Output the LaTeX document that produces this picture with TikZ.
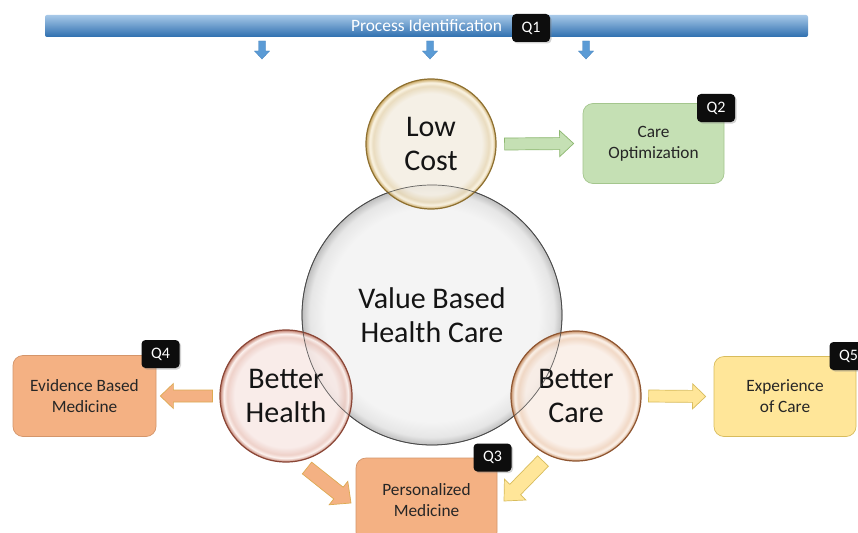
\documentclass[tikz,border=0pt]{standalone}
\usepackage{fontspec}
\setmainfont{Carlito}
\usetikzlibrary{calc,shadows}

\definecolor{barT}{HTML}{A7C8E8}
\definecolor{barB}{HTML}{2E6FAF}
\definecolor{blueArr}{HTML}{5B9BD5}
\definecolor{blueArrL}{HTML}{4A86C0}
\definecolor{greenFill}{HTML}{C5E0B4}
\definecolor{greenLine}{HTML}{8DB870}
\definecolor{orangeFill}{HTML}{F4B183}
\definecolor{orangeLine}{HTML}{D4956A}
\definecolor{orangeArrL}{HTML}{DDAA52}
\definecolor{yellowFill}{HTML}{FFE699}
\definecolor{yellowLine}{HTML}{D8BC5C}
\definecolor{mainA}{HTML}{F4F4F4}
\definecolor{mainB}{HTML}{E6E6E6}
\definecolor{mainC}{HTML}{BEBEBE}
\definecolor{mainRim}{HTML}{4A4A4A}
\definecolor{lcA}{HTML}{F4EEE2}
\definecolor{lcB}{HTML}{E6D6B4}
\definecolor{lcH}{HTML}{FBF4E2}
\definecolor{lcC}{HTML}{C09848}
\definecolor{lcRim}{HTML}{8E7030}
\definecolor{bhA}{HTML}{F8E9E6}
\definecolor{bhB}{HTML}{ECC9C0}
\definecolor{bhH}{HTML}{FCF0EC}
\definecolor{bhC}{HTML}{B86A56}
\definecolor{bhRim}{HTML}{8A4636}
\definecolor{bcA}{HTML}{FAEEE6}
\definecolor{bcB}{HTML}{EFD2BC}
\definecolor{bcH}{HTML}{FDF3EA}
\definecolor{bcC}{HTML}{C08050}
\definecolor{bcRim}{HTML}{8E5530}

\pgfdeclareradialshading{mainglass}{\pgfpoint{0bp}{0bp}}{color(0bp)=(mainA); color(20.5bp)=(mainA); color(23.5bp)=(mainB); color(25bp)=(mainC); color(50bp)=(mainC)}
\pgfdeclareradialshading{lcglass}{\pgfpoint{0bp}{0bp}}{color(0bp)=(lcA); color(19.5bp)=(lcA); color(22.3bp)=(lcB); color(23.6bp)=(lcH); color(25bp)=(lcC); color(50bp)=(lcC)}
\pgfdeclareradialshading{bhglass}{\pgfpoint{0bp}{0bp}}{color(0bp)=(bhA); color(19.5bp)=(bhA); color(22.3bp)=(bhB); color(23.6bp)=(bhH); color(25bp)=(bhC); color(50bp)=(bhC)}
\pgfdeclareradialshading{bcglass}{\pgfpoint{0bp}{0bp}}{color(0bp)=(bcA); color(19.5bp)=(bcA); color(22.3bp)=(bcB); color(23.6bp)=(bcH); color(25bp)=(bcC); color(50bp)=(bcC)}

% block arrow: style, from, to, shaft half width, head half width, head length
\newcommand{\blkarr}[6]{%
  \draw[#1] let \p1=(#2), \p2=(#3),
    \n1={atan2(\y2-\y1,\x2-\x1)}, \n2={veclen(\x2-\x1,\y2-\y1)} in
    [shift={(\p1)}, rotate=\n1]
    (0,-#4) -- ({\n2-#6},-#4) -- ({\n2-#6},-#5) -- (\n2,0)
    -- ({\n2-#6},#5) -- ({\n2-#6},#4) -- (0,#4) -- cycle;}

\tikzset{
  bigtxt/.style={font=\fontsize{30}{34}\selectfont, align=center, text=black!92},
  glass/.style={circle, inner sep=0pt, shade, bigtxt},
  box/.style={rectangle, rounded corners=10pt, inner sep=0pt, align=center,
    font=\fontsize{17.3}{21}\selectfont, text=black!85, line width=0.7pt},
  badge/.style={rectangle, rounded corners=4pt, fill=black!95, text=white,
    minimum width=38pt, minimum height=28pt, inner sep=0pt,
    font=\fontsize{16}{18}\selectfont, drop shadow={shadow xshift=1.5pt, shadow yshift=-1.5pt, opacity=0.35}},
  greenarr/.style={fill=greenFill, draw=greenLine, line width=0.7pt, line join=miter},
  orangearr/.style={fill=orangeFill, draw=orangeArrL, line width=0.7pt, line join=miter},
  yellowarr/.style={fill=yellowFill, draw=yellowLine, line width=0.7pt, line join=miter},
  bluearr/.style={fill=blueArr, draw=blueArrL, line width=0.4pt, line join=miter},
}

\begin{document}
\begin{tikzpicture}[x=1pt, y=-1pt]
\clip (0,0) rectangle (858,532);
\fill[white] (0,0) rectangle (858,532);

% top bar
\node[rectangle, rounded corners=2pt, top color=barT, bottom color=barB,
  minimum width=763pt, minimum height=22pt, inner sep=0pt,
  text=white, font=\fontsize{17.4}{19}\selectfont] (pi) at (426.5,26) {Process Identification};
\node[badge] (q1) at (531,28) {Q1};

% down arrows
\coordinate (d1s) at (262,41); \coordinate (d1e) at (262,59);
\coordinate (d2s) at (430,41); \coordinate (d2e) at (430,59);
\coordinate (d3s) at (586,41); \coordinate (d3e) at (586,59);
\blkarr{bluearr}{d1s}{d1e}{3.5}{7.5}{8}
\blkarr{bluearr}{d2s}{d2e}{3.5}{7.5}{8}
\blkarr{bluearr}{d3s}{d3e}{3.5}{7.5}{8}

% main circle
\node[glass, shading=mainglass, minimum size=260pt, draw=mainRim, line width=0.8pt] (vbhc) at (432,315) {Value Based\\Health Care};

% small circles
\node[glass, shading=lcglass, minimum size=130pt, draw=lcRim, line width=1.2pt,
  fill opacity=0.85, text opacity=1] (lc) at (431,144) {Low\\Cost};
\node[glass, shading=bhglass, minimum size=132pt, draw=bhRim, line width=1.2pt,
  fill opacity=0.85, text opacity=1] (bh) at (286,396) {Better\\Health};
\node[glass, shading=bcglass, minimum size=130pt, draw=bcRim, line width=1.2pt,
  fill opacity=0.85, text opacity=1] (bc) at (576,396) {Better\\Care};

% main circle outline over overlaps
\draw[mainRim, line width=0.7pt, draw opacity=0.8] (vbhc.center) circle[radius=130];

% boxes
\node[box, fill=greenFill, draw=greenLine!80, minimum width=141pt, minimum height=80pt] (co) at (653.5,143.5) {Care\\Optimization};
\node[badge] (q2) at (716,108) {Q2};

\node[box, fill=orangeFill, draw=orangeLine, minimum width=143pt, minimum height=81pt] (ebm) at (84.5,396) {Evidence Based\\Medicine};
\node[badge] (q4) at (160.5,354) {Q4};

\node[box, fill=yellowFill, draw=yellowLine, minimum width=142pt, minimum height=80pt] (eoc) at (785,396.5) {Experience\\of Care};
\node[badge] (q5) at (848.5,356) {Q5};

\node[box, fill=orangeFill, draw=orangeLine, minimum width=141pt, minimum height=84pt] (pm) at (426.5,500) {Personalized\\Medicine};
\node[badge] (q3) at (492.5,457.5) {Q3};

% connectors (block arrows)
\coordinate (a1s) at ($(lc.east)+(8,0)$);  \coordinate (a1e) at ($(co.west)+(-9,0)$);
\coordinate (a2s) at ($(bh.west)+(-7,0)$); \coordinate (a2e) at ($(ebm.east)+(4,0)$);
\coordinate (a3s) at ($(bc.east)+(7,0)$);  \coordinate (a3e) at ($(eoc.west)+(-8,0)$);
\coordinate (a4s) at (307,468); \coordinate (a4e) at (351,503);
\coordinate (a5s) at (543,461); \coordinate (a5e) at (504,501);
\blkarr{greenarr}{a1s}{a1e}{6}{13}{14}
\blkarr{orangearr}{a2s}{a2e}{6}{12.5}{13}
\blkarr{yellowarr}{a3s}{a3e}{6}{12.5}{13}
\blkarr{orangearr}{a4s}{a4e}{7.5}{15}{16}
\blkarr{yellowarr}{a5s}{a5e}{7.5}{15}{16}
\end{tikzpicture}
\end{document}
